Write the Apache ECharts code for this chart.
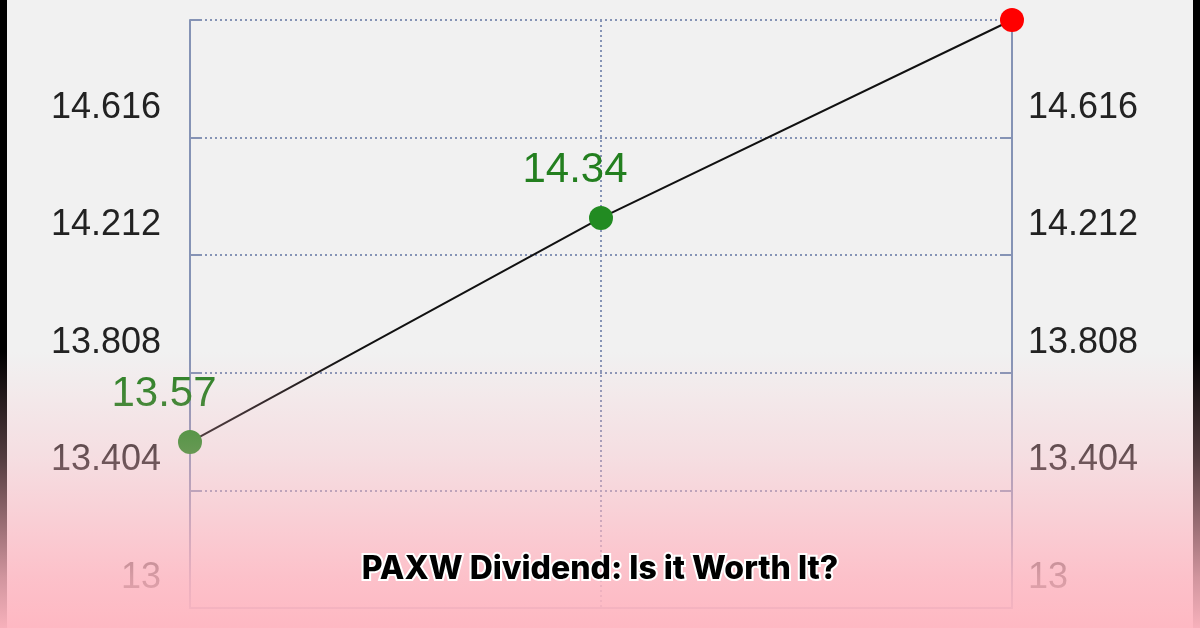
<!DOCTYPE html>
<html>
<head>
<meta charset="utf-8">
<script src="https://cdn.jsdelivr.net/npm/echarts@6/dist/echarts.min.js"></script>
<style>
html,body{margin:0;padding:0;background:#f1f1f1;}
#chart{width:1200px;height:628px;}
</style>
</head>
<body>
<div id="chart"></div>
<script>
var categories = ['Period 1', 'Period 2', 'Period 3'];
var dividendValues = [13.57, 14.34, 15.02];
var pointColors = ['#228B22', '#228B22', '#ff0000'];
var showValueLabel = [true, true, false];
var yTickLabels = ['13', '13.404', '13.808', '14.212', '14.616', '15.02'];
var yMin = 13, yMax = 15.02, yInterval = 0.404;
var titleText = 'PAXW Dividend: Is it Worth It?';

var chart = echarts.init(document.getElementById('chart'), null, {renderer: 'canvas'});

function tickLabel(v) {
  var i = Math.round((v - yMin) / yInterval);
  return yTickLabels[i] !== undefined ? yTickLabels[i] : '';
}

var axisColor = '#8593b5';

function yAxisCfg(pos, margin) {
  return {
    type: 'value',
    position: pos,
    min: yMin, max: yMax, interval: yInterval,
    axisLine: {show: true, lineStyle: {color: axisColor, width: 2}},
    axisTick: {show: true, inside: true, length: 12, lineStyle: {color: axisColor, width: 2}},
    splitLine: {show: pos === 'left', lineStyle: {color: axisColor, width: 2, type: [2, 3]}},
    axisLabel: {
      show: true, formatter: tickLabel, margin: margin,
      showMinLabel: true, showMaxLabel: true, hideOverlap: false,
      fontFamily: 'Liberation Sans, Arial, sans-serif', fontSize: 36, color: '#222',
      verticalAlign: 'bottom', lineHeight: 60
    }
  };
}

var seriesData = dividendValues.map(function (v, i) {
  return {
    value: v,
    itemStyle: {color: pointColors[i]},
    label: {show: showValueLabel[i], color: '#237f1f'}
  };
});

chart.setOption({
  backgroundColor: '#f1f1f1',
  animation: false,
  grid: {left: 190, right: 188, top: 20, bottom: 20, containLabel: false, outerBoundsMode: 'none'},
  xAxis: {
    type: 'category', data: categories, boundaryGap: false,
    axisLine: {show: true, lineStyle: {color: axisColor, width: 2}},
    axisTick: {show: false},
    axisLabel: {show: false},
    splitLine: {show: true, lineStyle: {color: axisColor, width: 2, type: [2, 3]}}
  },
  yAxis: [yAxisCfg('left', 29), yAxisCfg('right', 16)],
  series: [{
    type: 'line',
    data: seriesData,
    symbol: 'circle', symbolSize: 24,
    lineStyle: {color: '#111', width: 2},
    z: 5,
    label: {
      show: true, position: 'top', distance: 15, offset: [-26, 0],
      fontFamily: 'Liberation Sans, Arial, sans-serif', fontSize: 42,
      formatter: function (p) { return String(p.value); }
    }
  }],
  graphic: [
    {type: 'rect', left: 0, top: 0, shape: {width: 7, height: 628}, style: {fill: '#000'}, z: 50},
    {type: 'rect', left: 1193, top: 0, shape: {width: 7, height: 628}, style: {fill: '#000'}, z: 50},
    {
      type: 'rect', left: 0, top: 0, shape: {width: 1200, height: 628}, z: 100, silent: true,
      style: {
        fill: new echarts.graphic.LinearGradient(0, 0, 0, 1, [
          {offset: 0, color: 'rgba(255,182,193,0)'},
          {offset: 0.56, color: 'rgba(255,182,193,0)'},
          {offset: 0.73, color: 'rgba(255,182,193,0.33)'},
          {offset: 0.92, color: 'rgba(255,182,193,0.82)'},
          {offset: 1, color: 'rgba(255,182,193,0.97)'}
        ])
      }
    },
    {
      type: 'text', x: 600, y: 569, z: 200,
      style: {
        text: titleText, fill: '#000', stroke: '#fff', lineWidth: 4,
        font: '800 32px Inter, "Open Sans", sans-serif',
        textAlign: 'center', textVerticalAlign: 'middle'
      }
    }
  ]
});
</script>
</body>
</html>
